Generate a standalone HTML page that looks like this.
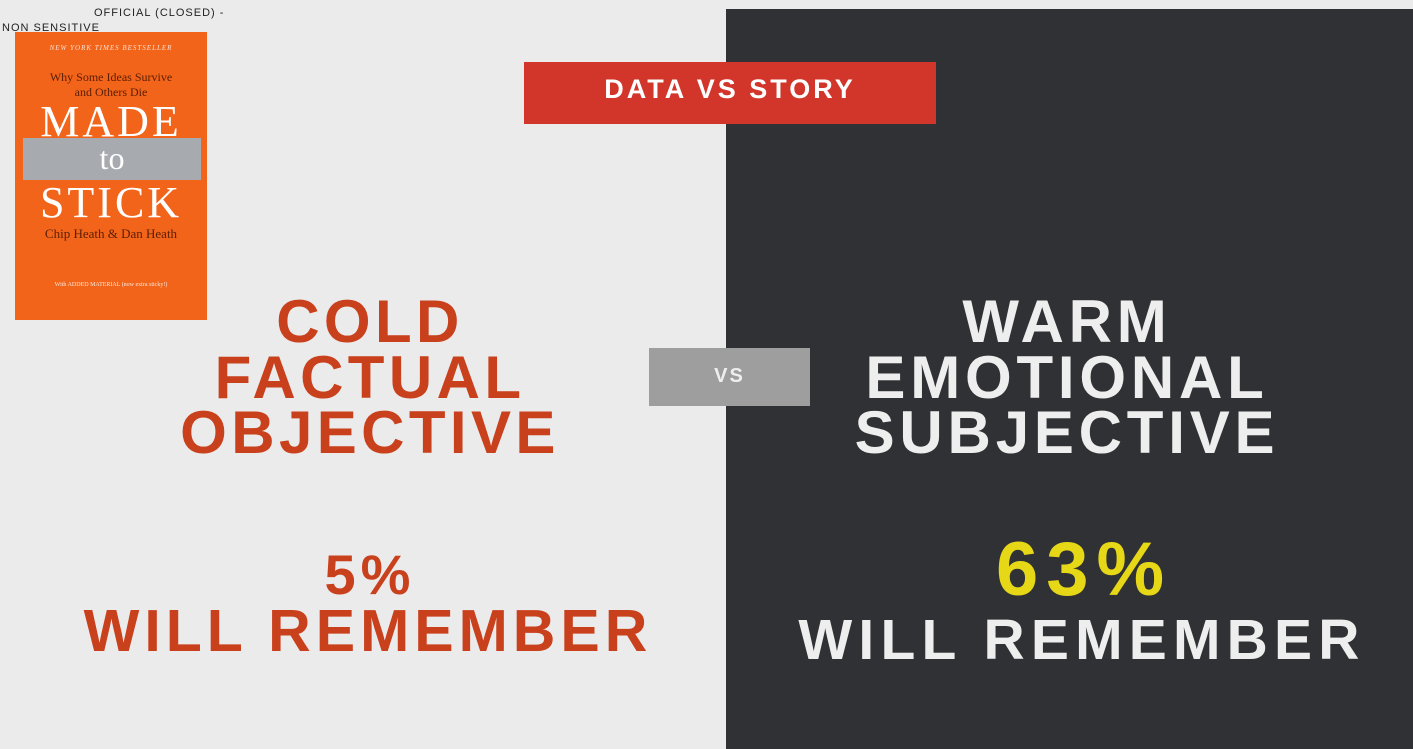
<!DOCTYPE html>
<html><head><meta charset="utf-8"><style>
body{margin:0;width:1413px;height:749px;overflow:hidden;background:#ebebeb;font-family:"Liberation Sans",Arial,sans-serif;position:relative}
.a{position:absolute}
.t{position:absolute;font-weight:bold;text-align:center;white-space:nowrap;letter-spacing:5px}
</style></head><body>
<div class="a" style="left:0;top:0;width:726px;height:749px;background:#ebebeb"></div>
<div class="a" style="left:726px;top:9px;width:687px;height:740px;background:#2f3134"></div>
<div class="a" style="left:94px;top:7px;font-size:11px;letter-spacing:1px;color:#222">OFFICIAL (CLOSED) -</div>
<div class="a" style="left:2px;top:22px;font-size:11px;letter-spacing:1px;color:#222">NON SENSITIVE</div>
<div class="a" style="left:15px;top:32px;width:192px;height:288px;background:#f26419;font-family:'Liberation Serif',serif;color:#fff;text-align:center">
<div style="margin-top:12px;font-size:7px;font-style:italic;letter-spacing:1px;opacity:.8">NEW YORK TIMES BESTSELLER</div>
<div style="margin-top:18px;font-size:12px;color:#5a1e05;line-height:15px">Why Some Ideas Survive<br>and Others Die</div>
<div style="font-size:44px;line-height:44px;letter-spacing:3px">MADE</div>
<div style="margin:-6px 6px 0 8px;height:42px;background:#a7abb0;font-size:32px;line-height:40px">to</div>
<div style="font-size:44px;line-height:46px;letter-spacing:3px">STICK</div>
<div style="font-size:13px;color:#5a1e05">Chip Heath &amp; Dan Heath</div>
<div style="margin-top:40px;font-size:6px;opacity:.85">With ADDED MATERIAL (now extra sticky!)</div>
</div>
<div class="a" style="left:524px;top:62px;width:412px;height:62px;background:#d2352a;color:#fff;font-weight:bold;font-size:27px;letter-spacing:3px;text-align:center;line-height:55px">DATA VS STORY</div>
<div class="a" style="left:649px;top:348px;width:161px;height:58px;background:#9e9e9e;color:#eee;font-weight:bold;font-size:20px;letter-spacing:2px;text-align:center;line-height:56px">VS</div>
<div class="t" style="left:70px;width:600px;top:294px;font-size:60px;line-height:55.5px;letter-spacing:4.4px;color:#c9401c">COLD<br>FACTUAL<br>OBJECTIVE</div>
<div class="t" style="left:767px;width:600px;top:294px;font-size:60px;line-height:55.5px;letter-spacing:4.8px;color:#eeeeee">WARM<br>EMOTIONAL<br>SUBJECTIVE</div>
<div class="t" style="left:70px;width:600px;top:540px;font-size:56px;line-height:70px;color:#c9401c">5%</div>
<div class="t" style="left:68px;width:600px;top:596px;font-size:59px;line-height:70px;letter-spacing:5px;color:#c9401c">WILL REMEMBER</div>
<div class="t" style="left:804px;width:560px;top:527px;font-size:76px;line-height:86px;letter-spacing:8px;color:#e6d817">63%</div>
<div class="t" style="left:782px;width:600px;top:605px;font-size:57px;line-height:70px;letter-spacing:6.2px;color:#eeeeee">WILL REMEMBER</div>
</body></html>
